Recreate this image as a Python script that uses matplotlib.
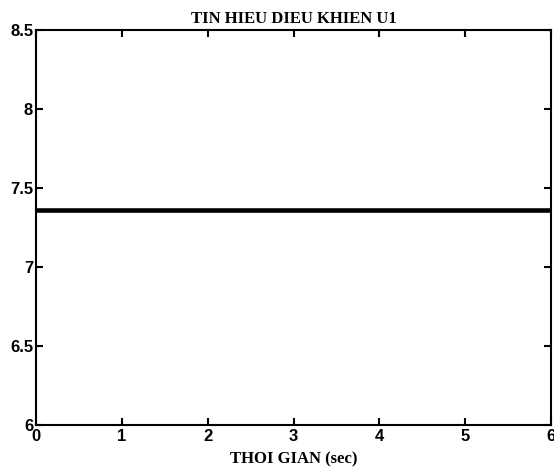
import matplotlib

matplotlib.use("Agg")
import matplotlib.pyplot as plt

# control signal u1 is constant over the whole run
time_s = [0.0, 6.0]
u1 = [7.36, 7.36]
x_ticks = [0, 1, 2, 3, 4, 5, 6]
y_ticks = [6, 6.5, 7, 7.5, 8, 8.5]
y_tick_labels = ["6", "6.5", "7", "7.5", "8", "8.5"]

fig = plt.figure(figsize=(5.54, 4.75), dpi=100)
ax = fig.add_axes((36 / 554, 50 / 475, 515 / 554, 395 / 475))

ax.plot(time_s, u1, color="black", linewidth=3.3)
ax.set_xlim(0, 6)
ax.set_ylim(6, 8.5)
ax.set_xticks(x_ticks)
ax.set_yticks(y_ticks)
ax.set_yticklabels(y_tick_labels)
ax.tick_params(direction="in", top=True, right=True, length=5, width=1.5, pad=3)
ax.tick_params(axis="y", pad=2)
for lbl in ax.get_xticklabels() + ax.get_yticklabels():
    lbl.set_fontfamily("Liberation Sans")
    lbl.set_fontweight("bold")
    lbl.set_fontsize(12)
for side in ax.spines.values():
    side.set_linewidth(1.5)

ax.set_title("TIN HIEU DIEU KHIEN U1", fontfamily="Liberation Serif",
             fontweight="bold", fontsize=12, pad=5)
ax.set_xlabel("THOI GIAN (sec)", fontfamily="Liberation Serif",
              fontweight="bold", fontsize=12, labelpad=5)

fig.savefig("out.png", dpi=100)
